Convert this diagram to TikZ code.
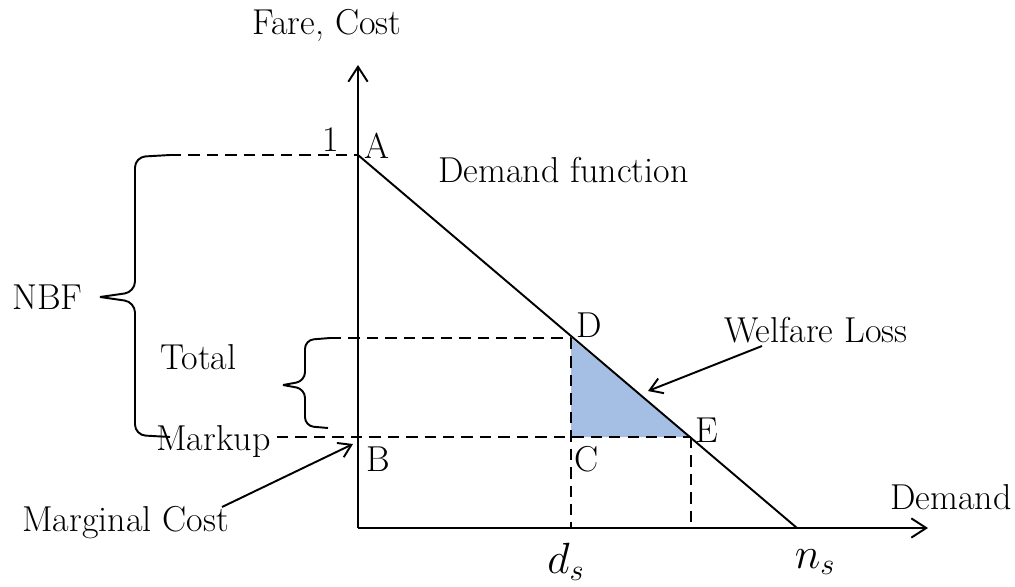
\documentclass[tikz,border=0pt]{standalone}
\usetikzlibrary{arrows.meta,positioning}
\begin{document}
\begin{tikzpicture}[x=0.02cm, y=-0.02cm, font=\fontsize{20.5}{24}\selectfont,
  axis/.style={line width=1.1pt, -{Straight Barb[length=8.5pt,width=11pt]}},
  guide/.style={line width=1.1pt, dash pattern=on 6.5pt off 4pt},
  curve/.style={line width=1.1pt},
  pointer/.style={line width=1.1pt, -{Straight Barb[length=7pt,width=9pt]}},
  lbl/.style={inner sep=0pt},
  mathlbl/.style={inner sep=0pt, font=\fontsize{27}{30}\selectfont},
  loss/.style={fill={rgb,255:red,165;green,190;blue,228}}]
  \useasboundingbox (0,0) rectangle (1015,586);

  % points of the diagram
  \coordinate (O) at (358,528);
  \coordinate (A) at (358,155);
  \coordinate (B) at (358,437);
  \coordinate (C) at (571,437);
  \coordinate (D) at (571,338);
  \coordinate (E) at (691,437);
  \coordinate (N) at (797,528);
  \coordinate (ds) at (571,528);
  \coordinate (es) at (691,528);

  \fill[loss] (D) -- (C) -- (E) -- cycle;

  % axes
  \coordinate (ytop) at (358,65);
  \coordinate (xend) at (928,528);
  \draw[axis] (O) -- (ytop);
  \draw[axis] (O) -- (xend);

  % guides
  \coordinate (atop) at (170,155);
  \coordinate (dleft) at (330,338);
  \coordinate (bleft) at (277,437);
  \draw[guide] (atop) -- (A);
  \draw[guide] (dleft) -- (D);
  \draw[guide] (bleft) -- (E);
  \draw[guide] (D) -- (ds);
  \draw[guide] (E) -- (es);

  % demand line
  \draw[curve] (A) -- (N);

  % braces
  \draw[curve, rounded corners=6] (atop) -- (135,157) -- (135,292) -- (100,297);
  \draw[curve, rounded corners=6] (100,297) -- (135,302) -- (135,435) -- (170,437);
  \draw[curve, rounded corners=5] (dleft) -- (305,340) -- (305,381) -- (283,385);
  \draw[curve, rounded corners=5] (283,385) -- (305,389) -- (305,426) -- (328,428);

  % labels
  \node[lbl] (farecost) at (327,25) {Fare, Cost};
  \node[lbl] (one) at (331,140) {1};
  \node[lbl] (labA) at (377,146) {A};
  \node[lbl, anchor=west] (demfun) at (438,170) {Demand function};
  \node[lbl] (labD) at (589,325) {D};
  \node[lbl] (labE) at (707,430) {E};
  \node[lbl] (labB) at (378,459) {B};
  \node[lbl] (labC) at (587,459) {C};
  \node[lbl, anchor=west] (welfare) at (724,330) {Welfare Loss};
  \node[lbl, anchor=west] (nbf) at (12,297) {NBF};
  \node[lbl, anchor=west] (total) at (160,357) {Total};
  \node[lbl, anchor=west] (markup) at (156,442) {Markup};
  \node[lbl, anchor=west] (marginal) at (22,523) {Marginal Cost};
  \node[lbl, anchor=east] (demand) at (1012,497) {Demand};
  \node[mathlbl] (dslabel) at (566,562) {$d_s$};
  \node[mathlbl] (nslabel) at (815,562) {$n_s$};

  % pointers
  \coordinate (wtail) at (762,346);
  \coordinate (wtip) at (648,391);
  \coordinate (mtail) at (222,507);
  \coordinate (mtip) at (353,444);
  \draw[pointer] (wtail) -- (wtip);
  \draw[pointer] (mtail) -- (mtip);
\end{tikzpicture}
\end{document}
